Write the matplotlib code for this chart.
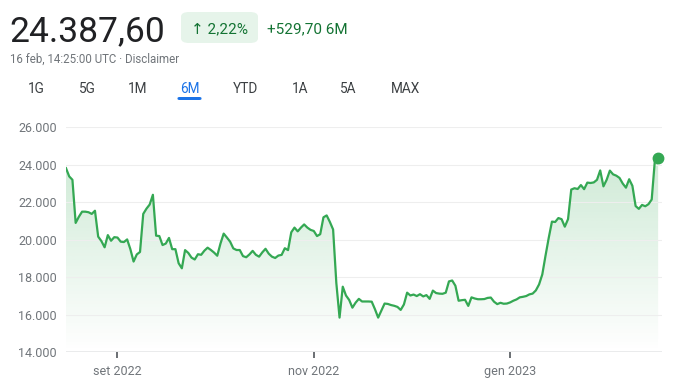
import numpy as np
import pandas as pd
import matplotlib
matplotlib.use("Agg")
import matplotlib.pyplot as plt
import matplotlib.dates as mdates
from matplotlib.colors import to_rgb
from matplotlib.patches import FancyBboxPatch, Polygon
from matplotlib.ticker import FuncFormatter

plt.rcParams["font.family"] = ["Roboto", "DejaVu Sans"]

# daily closes, 16 aug 2022 -> 16 feb 2023
start_date = "2022-08-16"
prices = [
    23820, 23380, 23200, 20900, 21230, 21500, 21500, 21470, 21380, 21550,
    20170, 19930, 19600, 20250, 19950, 20140, 20120, 19900, 19880, 20020,
    19500, 18840, 19220, 19350, 21380, 21660, 21880, 22400, 20220, 20200,
    19720, 19800, 20100, 19500, 19500, 18750, 18480, 19450, 19300, 19050,
    18950, 19230, 19200, 19420, 19580, 19460, 19320, 19150, 19800, 20330,
    20120, 19900, 19540, 19455, 19455, 19130, 19070, 19220, 19410, 19200,
    19100, 19330, 19520, 19260, 19100, 19030, 19160, 19195, 19550, 19450,
    20400, 20650, 20450, 20650, 20820, 20650, 20530, 20470, 20200, 20300,
    21200, 21300, 20950, 20550, 17700, 15850, 17500, 17030, 16790, 16380,
    16650, 16850, 16710, 16710, 16710, 16700, 16300, 15850, 16230, 16600,
    16580, 16520, 16480, 16420, 16260, 16550, 17180, 17030, 17080, 17000,
    17100, 16980, 17050, 16850, 17290, 17160, 17130, 17120, 17180, 17780,
    17830, 17550, 16750, 16780, 16800, 16475, 16930, 16870, 16830, 16830,
    16840, 16900, 16920, 16700, 16570, 16640, 16590, 16600, 16660, 16750,
    16820, 16930, 16960, 17000, 17090, 17130, 17300, 17620, 18150, 19150,
    20100, 20970, 20950, 21160, 21100, 20700, 21100, 22680, 22750, 22710,
    22920, 22700, 23050, 23030, 23060, 23200, 23700, 22850, 23200, 23690,
    23490, 23420, 23300, 23000, 22780, 23230, 22880, 21800, 21650, 21860,
    21790, 21900, 22150, 24270, 24387.6,
]
dates = pd.date_range(start_date, periods=len(prices), freq="D")

y_ticks = [14000, 16000, 18000, 20000, 22000, 24000, 26000]
x_ticks = ["2022-09-01", "2022-11-01", "2023-01-01"]
x_tick_labels = ["set 2022", "nov 2022", "gen 2023"]

price_text = "24.387,60"
change_pct = "\u2191 2,22%"
change_abs = "+529,70 6M"
timestamp = "16 feb, 14:25:00 UTC \u00b7 Disclaimer"
ranges = ["1G", "5G", "1M", "6M", "YTD", "1A", "5A", "MAX"]
range_centers = [36, 87, 138, 189.5, 245, 300, 348, 405]
active_range = "6M"

green = "#34a853"
dark_green = "#137333"
grey = "#70757a"
W, H = 683, 390

fig = plt.figure(figsize=(W / 100, H / 100), dpi=100)

def fx(px):
    return px / W

def fy(py):
    return 1 - py / H

# header
fig.text(fx(9), fy(41), price_text, fontsize=25.5, color="#202124", va="baseline")
pill = FancyBboxPatch((fx(181), fy(43)), fx(258) - fx(181), fy(12) - fy(43),
                      boxstyle="round,pad=0,rounding_size=0.012",
                      transform=fig.transFigure, facecolor="#e6f4ea", edgecolor="none")
fig.patches.append(pill)
fig.text(fx(219.5), fy(33), change_pct, fontsize=11, color=dark_green,
         ha="center", va="baseline")
fig.text(fx(267), fy(33), change_abs, fontsize=11, color=dark_green, va="baseline")
fig.text(fx(10), fy(63), timestamp, fontsize=8.3, color=grey, va="baseline")

for lab, cx in zip(ranges, range_centers):
    active = lab == active_range
    fig.text(fx(cx), fy(93), lab, fontsize=9.8, ha="center", va="baseline",
             color="#1a73e8" if active else "#3c4043")
    if active:
        bar = FancyBboxPatch((fx(cx - 12), fy(100)), fx(24), fy(97) - fy(100),
                             boxstyle="round,pad=0,rounding_size=0.003",
                             transform=fig.transFigure, facecolor="#1a73e8",
                             edgecolor="none")
        fig.patches.append(bar)

# chart
ax = fig.add_axes([fx(66), fy(352.3), fx(662) - fx(66), fy(127.3) - fy(352.3)])
x = mdates.date2num(dates)
y = np.array(prices, dtype=float)
ymin, ymax = 14000, 26000

grad = np.zeros((256, 1, 4))
grad[..., :3] = to_rgb(green)
grad[..., 3] = np.linspace(0.24, 0.0, 256)[:, None]
im = ax.imshow(grad, extent=[x[0], x[-1], ymin, y.max()], origin="upper",
               aspect="auto", zorder=1, interpolation="bilinear")
verts = [(x[0], ymin)] + list(zip(x, y)) + [(x[-1], ymin)]
clip = Polygon(verts, closed=True, facecolor="none", edgecolor="none")
ax.add_patch(clip)
im.set_clip_path(clip)

ax.plot(x, y, color=green, lw=1.6, zorder=3, solid_joinstyle="round")
ax.plot(x[-1], y[-1], "o", ms=7.5, color=green, zorder=4, clip_on=False)

ax.set_xlim(x[0], x[-1] + 1.2)
ax.set_ylim(ymin, ymax)
ax.set_yticks(y_ticks)
ax.yaxis.set_major_formatter(FuncFormatter(lambda v, p: f"{int(v):,}".replace(",", ".")))
ax.set_xticks(mdates.date2num(pd.to_datetime(x_ticks)))
ax.set_xticklabels(x_tick_labels)

for s in ax.spines.values():
    s.set_visible(False)
ax.grid(axis="y", color="#eeeeee", lw=0.8, zorder=0)
ax.axhline(ymin, color="#9aa0a6", lw=1.0, zorder=2)
ax.tick_params(axis="y", length=0, pad=6.5, labelsize=9, labelcolor=grey)
ax.tick_params(axis="x", length=4, width=1.3, color="#5f6368", pad=5,
               labelsize=9, labelcolor=grey)
ax.set_facecolor("white")

fig.savefig("out.png", dpi=100)
